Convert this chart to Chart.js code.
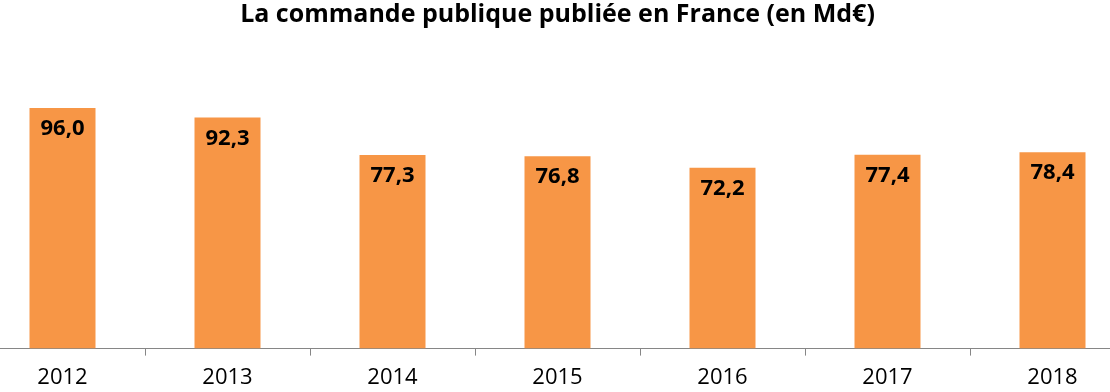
<!DOCTYPE html>
<html lang="fr">
<head>
<meta charset="utf-8">
<title>La commande publique publiée en France</title>
<script src="https://cdn.jsdelivr.net/npm/chart.js@4"></script>
<style>
  html, body { margin: 0; padding: 0; background: #fff; overflow: hidden; }
  #wrap { position: absolute; left: -20px; top: 0; width: 1155px; height: 392px; }
</style>
</head>
<body>
<div id="wrap"><canvas id="chart"></canvas></div>
<script>
const years = ['2012', '2013', '2014', '2015', '2016', '2017', '2018'];
const amounts = [96.0, 92.3, 77.3, 76.8, 72.2, 77.4, 78.4];
const chartTitle = 'La commande publique publiée en France (en Md€)';

function frNumber(v) {
  return v.toFixed(1).replace('.', ',');
}

// labels inside the top of each bar
const barLabels = {
  id: 'barLabels',
  afterDatasetsDraw(chart) {
    const ctx = chart.ctx;
    const meta = chart.getDatasetMeta(0);
    ctx.save();
    ctx.font = 'bold 22px "Open Sans"';
    ctx.fillStyle = '#000';
    ctx.textAlign = 'center';
    ctx.textBaseline = 'middle';
    meta.data.forEach((bar, i) => {
      ctx.fillText(frNumber(amounts[i]), bar.x, bar.y + 21);
    });
    ctx.restore();
  }
};

new Chart(document.getElementById('chart'), {
  type: 'bar',
  data: {
    labels: years,
    datasets: [{
      data: amounts,
      backgroundColor: '#F79646',
      borderWidth: 0,
      categoryPercentage: 1,
      barPercentage: 0.4
    }]
  },
  options: {
    responsive: true,
    maintainAspectRatio: false,
    animation: false,
    layout: { padding: { top: 0, left: 0, right: 0, bottom: -8 } },
    plugins: {
      legend: { display: false },
      tooltip: { enabled: false },
      title: {
        display: true,
        text: chartTitle,
        color: '#000',
        font: { family: '"Open Sans"', size: 25, weight: 'bold' },
        padding: { top: 0, bottom: 18 }
      }
    },
    scales: {
      x: {
        grid: {
          drawOnChartArea: false,
          drawTicks: true,
          tickLength: 7,
          color: '#868686'
        },
        border: { color: '#868686', width: 1 },
        ticks: {
          color: '#000',
          padding: 9,
          font: { family: '"Open Sans"', size: 22 }
        }
      },
      y: {
        display: false,
        min: 0,
        max: 120
      }
    }
  },
  plugins: [barLabels]
});
</script>
</body>
</html>
